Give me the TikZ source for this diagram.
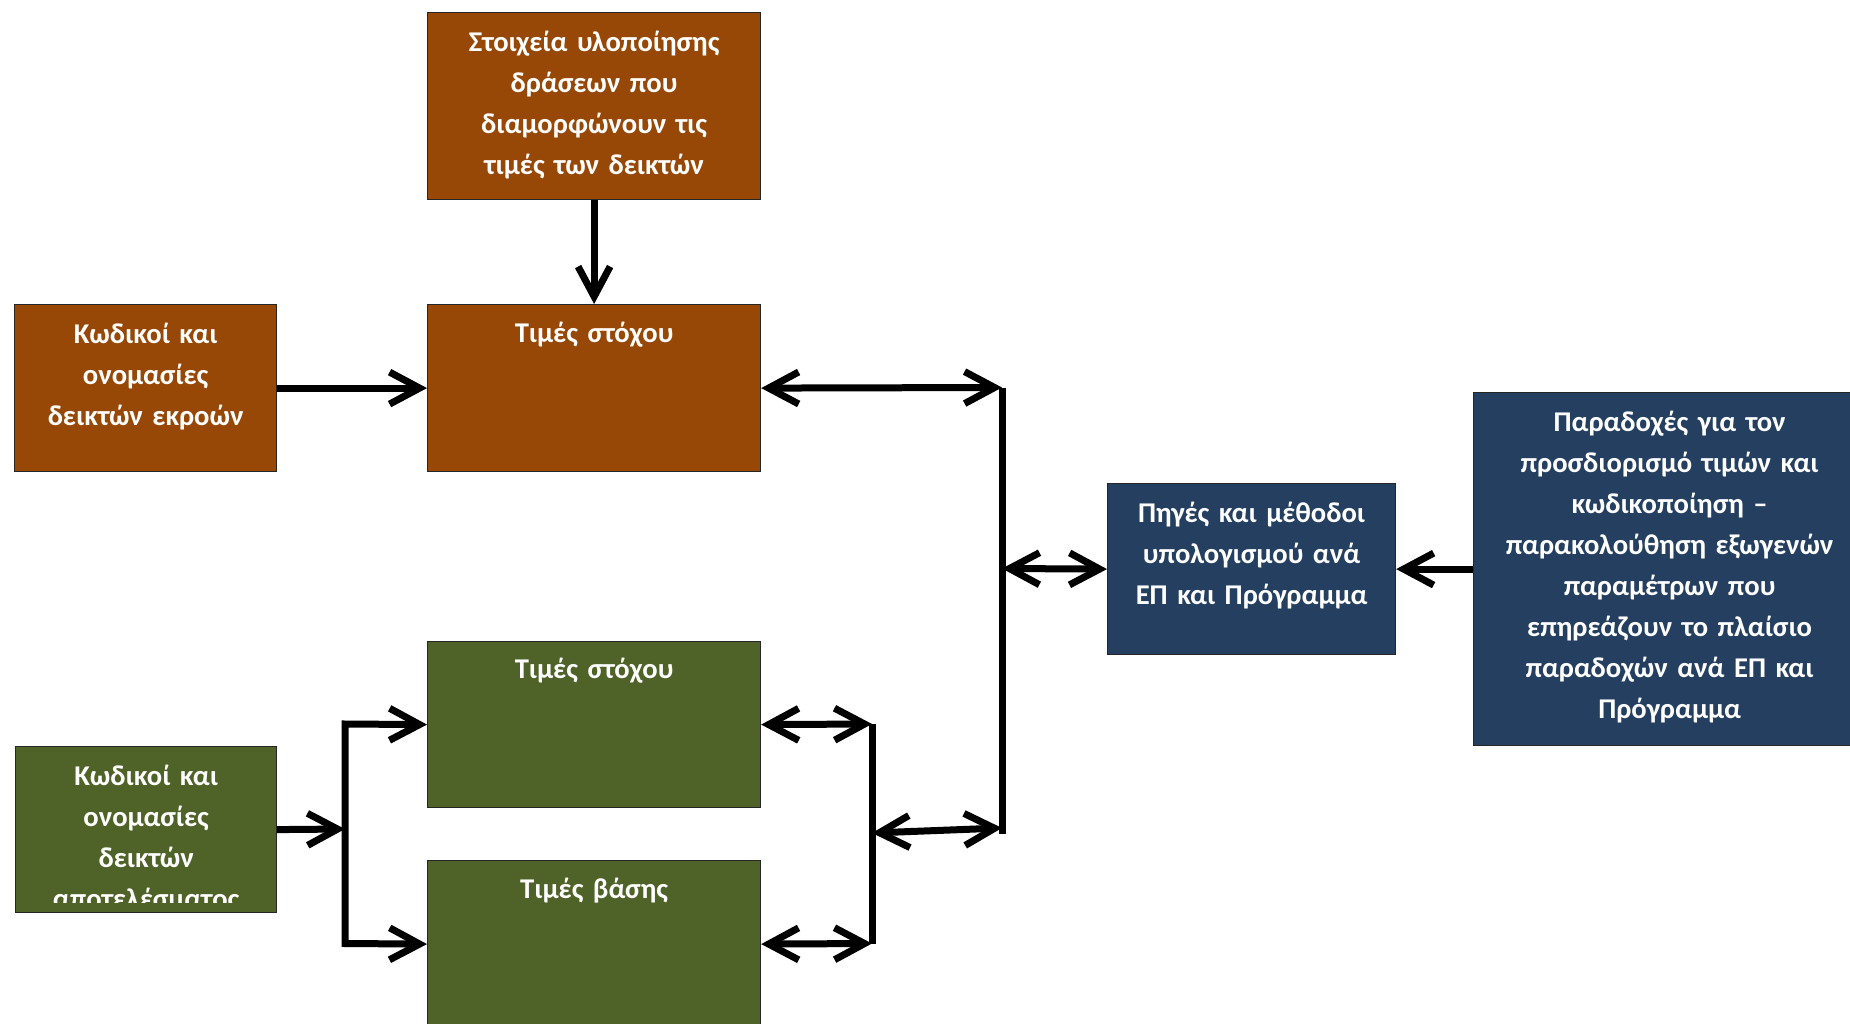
\documentclass[tikz,border=0pt]{standalone}
\usepackage{fontspec}
\setmainfont{Carlito}
\usetikzlibrary{arrows.meta}
\definecolor{borange}{HTML}{974806}
\definecolor{bgreen}{HTML}{4F6228}
\definecolor{bblue}{HTML}{243F60}
\begin{document}
\begin{tikzpicture}[x=1pt,y=-1pt,
  box/.style={draw=black!85, line width=1.2pt, inner sep=0pt, anchor=north west},
  txt/.style={text=white, align=center, inner sep=0pt, anchor=base, text width=420pt,
    font=\bfseries\fontsize{28.6}{41}\selectfont},
  conn/.style={line width=7pt, draw=black},
  >={Straight Barb[length=30pt,width=32pt]}]
\useasboundingbox (0,0) rectangle (1850,1024);
% boxes
\node[box, fill=borange, minimum width=333pt, minimum height=187pt] (top) at (427,12) {};
\node[box, fill=borange, minimum width=333pt, minimum height=167pt] (tgtO) at (427,304) {};
\node[box, fill=borange, minimum width=262pt, minimum height=167pt] (outO) at (14,304) {};
\node[box, fill=bblue, minimum width=288pt, minimum height=171pt] (mid) at (1107,483) {};
\node[box, fill=bblue, minimum width=392pt, minimum height=353pt] (right) at (1473,392) {};
\node[box, fill=bgreen, minimum width=333pt, minimum height=166pt] (tgtG) at (427,641) {};
\node[box, fill=bgreen, minimum width=333pt, minimum height=167pt] (baseG) at (427,860) {};
\node[box, fill=bgreen, minimum width=261pt, minimum height=166pt] (outG) at (15,746) {};
% texts
\node[txt] (topT) at ([yshift=-40pt]top.north) {Στοιχεία υλοποίησης\\δράσεων που\\διαμορφώνουν τις\\τιμές των δεικτών};
\node[txt] (tgtOT) at ([yshift=-38pt]tgtO.north) {Τιμές στόχου};
\node[txt] (outOT) at ([yshift=-39pt]outO.north) {Κωδικοί και\\ονομασίες\\δεικτών εκροών};
\node[txt] (midT) at ([yshift=-39pt]mid.north) {Πηγές και μέθοδοι\\υπολογισμού ανά\\ΕΠ και Πρόγραμμα};
\node[txt] (rightT) at ([yshift=-39pt]right.north) {Παραδοχές για τον\\προσδιορισμό τιμών και\\κωδικοποίηση –\\παρακολούθηση εξωγενών\\παραμέτρων που\\επηρεάζουν το πλαίσιο\\παραδοχών ανά ΕΠ και\\Πρόγραμμα};
\node[txt] (tgtGT) at ([yshift=-37pt]tgtG.north) {Τιμές στόχου};
\node[txt] (baseGT) at ([yshift=-38pt]baseG.north) {Τιμές βάσης};
\begin{scope}
\clip (15,746) rectangle (276,902);
\node[txt] (outGT) at ([yshift=-39pt]outG.north) {Κωδικοί και\\ονομασίες\\δεικτών\\αποτελέσματος};
\end{scope}
% junctions
\coordinate (J1) at (1002,387.5);
\coordinate (J2) at (1002,834);
\coordinate (J3) at (1002,568.5);
\coordinate (J7) at (1002,828);
\coordinate (J4) at (872,724);
\coordinate (J5) at (872,943.5);
\coordinate (J6) at (872,833);
\coordinate (J8) at (345,829);
\coordinate (J9) at (345,724);
\coordinate (J10) at (345,943.5);
% connectors
\draw[conn,->] (top.south) -- (tgtO.north);
\draw[conn,->] (outO.east) -- (tgtO.west);
\draw[conn,<->] (tgtO.east) -- (J1);
\draw[conn] (J1) -- (J2);
\draw[conn,<->] (J3) -- (mid.west);
\draw[conn,->] (right.west) -- (mid.east);
\draw[conn,<->] (tgtG.east) -- (J4);
\draw[conn,<->] (baseG.east) -- (J5);
\draw[conn] (J4) -- (J5);
\draw[conn,<->] (J6) -- (J7);
\draw[conn,->] (outG.east) -- (J8);
\draw[conn,<->] (tgtG.west) -- (J9) -- (J10) -- (baseG.west);
\end{tikzpicture}
\end{document}
